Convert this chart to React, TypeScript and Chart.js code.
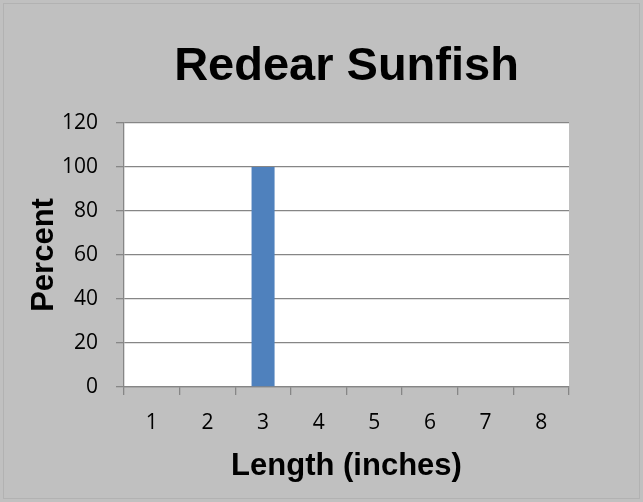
import React, { useEffect, useRef } from "react";
import { Chart, registerables } from "chart.js";

Chart.register(...registerables);

const chartTitle = "Redear Sunfish";
const xAxisTitle = "Length (inches)";
const yAxisTitle = "Percent";
const categories = ["1", "2", "3", "4", "5", "6", "7", "8"];
const percentValues = [0, 0, 100, 0, 0, 0, 0, 0];
const yTickValues = [0, 20, 40, 60, 80, 100, 120];

const GRID = "#868686";

const backgroundPlugin = {
  id: "sheetBackground",
  beforeDraw(chart: any) {
    const { ctx, chartArea, width, height } = chart;
    ctx.save();
    ctx.fillStyle = "#c0c0c0";
    ctx.fillRect(0, 0, width, height);
    ctx.strokeStyle = "#b2b2b2";
    ctx.lineWidth = 1;
    ctx.strokeRect(3.5, 3.5, width - 7, height - 7);
    ctx.fillStyle = "#ffffff";
    ctx.fillRect(
      chartArea.left,
      chartArea.top,
      chartArea.right - chartArea.left,
      chartArea.bottom - chartArea.top
    );
    ctx.restore();
  },
};

export default function App() {
  const canvasRef = useRef<HTMLCanvasElement | null>(null);

  useEffect(() => {
    if (!canvasRef.current) return;
    const chart = new Chart(canvasRef.current, {
      type: "bar",
      data: {
        labels: categories,
        datasets: [
          {
            label: yAxisTitle,
            data: percentValues,
            backgroundColor: "#4f81bd",
            borderWidth: 0,
            barPercentage: 0.414,
            categoryPercentage: 1,
          },
        ],
      },
      options: {
        responsive: false,
        animation: false,
        layout: { padding: { left: 0, right: 74, top: 0, bottom: 0 } },
        plugins: {
          legend: { display: false },
          tooltip: { enabled: false },
          title: {
            display: true,
            text: chartTitle,
            fullSize: false,
            color: "#000",
            font: { family: "'Liberation Sans', Arial, sans-serif", size: 47, weight: "bold", lineHeight: 1.2 },
            padding: { top: 38.5, bottom: 28 },
          },
        },
        scales: {
          x: {
            type: "category",
            offset: true,
            grid: {
              display: true,
              offset: true,
              drawOnChartArea: false,
              drawTicks: true,
              tickLength: 8,
              color: GRID,
              lineWidth: 1.3,
            },
            border: { display: true, color: GRID, width: 1.3 },
            ticks: {
              color: "#000",
              padding: 15,
              font: { family: "'Open Sans', sans-serif", size: 21 },
              maxRotation: 0,
            },
            title: {
              display: true,
              text: xAxisTitle,
              color: "#000",
              font: { family: "'Liberation Sans', Arial, sans-serif", size: 31, weight: "bold", lineHeight: 1.2 },
              padding: { top: 0, bottom: 17 },
            },
            afterFit(scale: any) {
              scale.height = 115;
            },
          },
          y: {
            type: "linear",
            position: "left",
            min: 0,
            max: 120,
            grid: {
              color: GRID,
              lineWidth: 1.3,
              tickLength: 8,
              drawTicks: true,
            },
            border: { display: true, color: GRID, width: 1.3 },
            ticks: {
              color: "#000",
              padding: 18,
              stepSize: 20,
              font: { family: "'Open Sans', sans-serif", size: 21 },
            },
            afterBuildTicks(scale: any) {
              scale.ticks = yTickValues.map((v) => ({ value: v }));
            },
            title: {
              display: true,
              text: yAxisTitle,
              color: "#000",
              font: { family: "'Liberation Sans', Arial, sans-serif", size: 31, weight: "bold", lineHeight: 1.2 },
              padding: { top: 25.4, bottom: 0 },
            },
            afterFit(scale: any) {
              scale.width = 124;
            },
          },
        },
      },
      plugins: [backgroundPlugin],
    });
    return () => chart.destroy();
  }, []);

  return (
    <div style={{ position: "fixed", left: 0, top: 0, width: 643, height: 502 }}>
      <canvas ref={canvasRef} width={643} height={502} style={{ display: "block" }} />
    </div>
  );
}
